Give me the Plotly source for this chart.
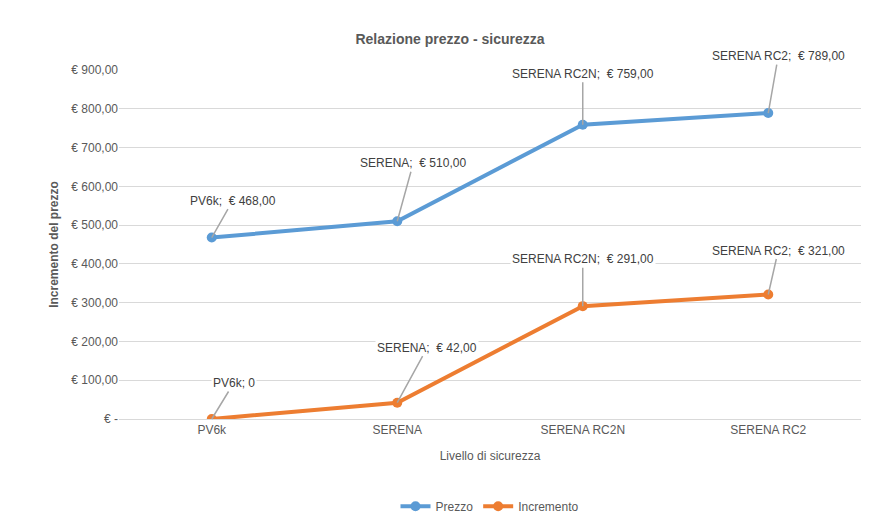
import plotly.graph_objects as go

categories = ["PV6k", "SERENA", "SERENA RC2N", "SERENA RC2"]
prezzo = [468, 510, 759, 789]
incremento = [0, 42, 291, 321]
prezzo_labels = ["PV6k;  € 468,00", "SERENA;  € 510,00", "SERENA RC2N;  € 759,00", "SERENA RC2;  € 789,00"]
incr_labels = ["PV6k; 0", "SERENA;  € 42,00", "SERENA RC2N;  € 291,00", "SERENA RC2;  € 321,00"]
tick_vals = [0, 100, 200, 300, 400, 500, 600, 700, 800, 900]
tick_text = ["€ -", "€ 100,00", "€ 200,00", "€ 300,00", "€ 400,00", "€ 500,00",
             "€ 600,00", "€ 700,00", "€ 800,00", "€ 900,00"]
prezzo_off = [(21, -37), (16, -58), (0, -51), (10, -57)]
incr_off = [(22, -36), (30, -55), (0, -47), (10, -44)]

fig = go.Figure()
fig.add_trace(go.Scatter(x=categories, y=prezzo, name="Prezzo", mode="lines+markers",
                         line=dict(color="#5B9BD5", width=4), marker=dict(size=10)))
fig.add_trace(go.Scatter(x=categories, y=incremento, name="Incremento", mode="lines+markers",
                         line=dict(color="#ED7D31", width=4), marker=dict(size=10)))
ann = []
for vals, labels, offs in [(prezzo, prezzo_labels, prezzo_off), (incremento, incr_labels, incr_off)]:
    for c, v, t, (ax, ay) in zip(categories, vals, labels, offs):
        ann.append(dict(x=c, y=v, text=t, showarrow=True, arrowhead=0, arrowwidth=1.5,
                        arrowcolor="#A6A6A6", ax=ax, ay=ay, font=dict(size=12, color="#404040"),
                        bgcolor="white"))
fig.update_layout(
    width=884, height=530, paper_bgcolor="white", plot_bgcolor="white",
    margin=dict(l=111, r=31, t=62, b=119, autoexpand=False),
    font=dict(family="Liberation Sans, Arial", size=12, color="#595959"),
    title=dict(text="<b>Relazione prezzo - sicurezza</b>", x=0.5, y=0.95, xanchor="center",
               font=dict(size=14, color="#595959")),
    xaxis=dict(title=dict(text="Livello di sicurezza", font=dict(size=12, color="#595959")),
               showgrid=False, showline=True, linecolor="#D9D9D9", ticks="", range=[-0.5, 3.5],
               automargin=False),
    yaxis=dict(title=dict(text="<b>Incremento del prezzo</b>", font=dict(size=12, color="#595959"), standoff=10),
               range=[0, 900], tickvals=tick_vals, ticktext=tick_text, gridcolor="#D9D9D9",
               zeroline=False, ticks="", automargin=False),
    legend=dict(orientation="h", x=0.5, xanchor="center", y=-0.25, yanchor="middle",
                font=dict(size=12, color="#595959")),
    annotations=ann,
)
fig.write_html("out.html")
